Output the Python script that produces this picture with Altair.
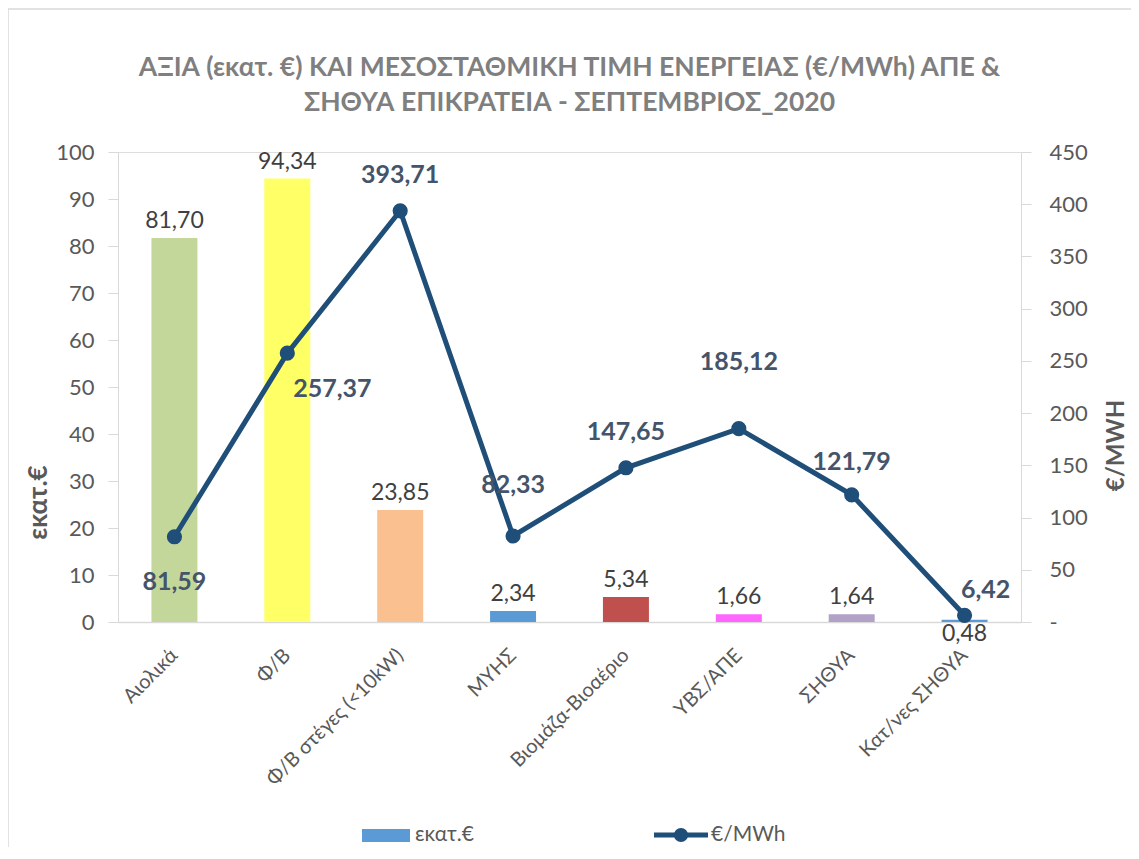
import altair as alt
import pandas as pd

categories = ["Αιολικά", "Φ/Β", "Φ/Β στέγες (<10kW)", "ΜΥΗΣ", "Βιομάζα-Βιοαέριο",
              "ΥΒΣ/ΑΠΕ", "ΣΗΘΥΑ", "Κατ/νες ΣΗΘΥΑ"]
value_meur = [81.70, 94.34, 23.85, 2.34, 5.34, 1.66, 1.64, 0.48]
price_mwh = [81.59, 257.37, 393.71, 82.33, 147.65, 185.12, 121.79, 6.42]
bar_colors = ["#C4D79B", "#FFFF66", "#FAC090", "#5B9BD5", "#C0504D",
              "#FF66FF", "#B3A2C7", "#5B9BD5"]
left_ticks = [0, 10, 20, 30, 40, 50, 60, 70, 80, 90, 100]
right_ticks = [0, 50, 100, 150, 200, 250, 300, 350, 400, 450]
title_lines = ["ΑΞΙΑ (εκατ. €) ΚΑΙ ΜΕΣΟΣΤΑΘΜΙΚΗ ΤΙΜΗ ΕΝΕΡΓΕΙΑΣ (€/MWh) ΑΠΕ &",
               "ΣΗΘΥΑ ΕΠΙΚΡΑΤΕΙΑ - ΣΕΠΤΕΜΒΡΙΟΣ_2020"]

df = pd.DataFrame({
    "cat": categories,
    "val": value_meur,
    "price": price_mwh,
    "col": bar_colors,
})
df["val_lbl"] = [f"{v:.2f}".replace(".", ",") for v in value_meur]
df["price_lbl"] = [f"{v:.2f}".replace(".", ",") for v in price_mwh]

FONT = "Lato"
GRAY = "#595959"
AXC = "#D9D9D9"
LINEC = "#1F4E79"
W, H = 903, 470

xenc = alt.X("cat:N", sort=categories, title=None,
             scale=alt.Scale(paddingInner=0.0, paddingOuter=0.0),
             axis=alt.Axis(labelAngle=-45, labelAlign="right", labelBaseline="middle",
                           labelFontSize=20, labelColor=GRAY, labelFont=FONT,
                           domainColor=AXC, domainWidth=1.5, ticks=False,
                           labelPadding=30, labelLimit=300))

yleft_scale = alt.Scale(domain=[0, 100], nice=False)
yright_scale = alt.Scale(domain=[0, 450], nice=False)

yleft = alt.Y("val:Q", title="εκατ.€", scale=yleft_scale,
              axis=alt.Axis(values=left_ticks, grid=False, labelFontSize=22,
                            labelColor=GRAY, labelFont=FONT, labelPadding=14,
                            domainColor=AXC, tickColor=AXC, tickSize=10,
                            titleFontSize=26, titleFont=FONT, titleColor=GRAY,
                            titleFontWeight="bold", titleAngle=270,
                            titleX=-80, titleY=350, titleAlign="center",
                            titleBaseline="middle"))

bars = alt.Chart(df).mark_bar(size=46).encode(
    x=xenc, y=yleft,
    color=alt.Color("col:N", scale=None),
)

def bar_text(cats, dy, baseline="bottom"):
    return alt.Chart(df).transform_filter(
        alt.FieldOneOfPredicate(field="cat", oneOf=cats)
    ).mark_text(font=FONT, fontSize=23, color="#404040", dy=dy, baseline=baseline).encode(
        x=alt.X("cat:N", sort=categories),
        y=alt.Y("val:Q", scale=yleft_scale),
        text="val_lbl:N",
    )

bar_labels = [bar_text(categories[:7], -5), bar_text(["Κατ/νες ΣΗΘΥΑ"], 14, "middle")]

yright = alt.Y("price:Q", title="€/MWH", scale=yright_scale,
               axis=alt.Axis(orient="right", values=right_ticks, grid=False,
                             labelFontSize=22, labelColor=GRAY, labelFont=FONT,
                             labelPadding=18,
                             labelExpr="datum.value == 0 ? '-' : datum.label",
                             domainColor=AXC, tickColor=AXC, tickSize=10,
                             titleFontSize=24, titleFont=FONT, titleColor=GRAY,
                             titleFontWeight="bold", titleAngle=270,
                             titleX=95, titleY=293, titleAlign="center",
                             titleBaseline="middle"))

line = alt.Chart(df).mark_line(color=LINEC, strokeWidth=5,
                               point=alt.OverlayMarkDef(color=LINEC, size=230, filled=True, opacity=1)).encode(
    x=alt.X("cat:N", sort=categories), y=yright,
)

def line_text(cats, dx, dy):
    return alt.Chart(df).transform_filter(
        alt.FieldOneOfPredicate(field="cat", oneOf=cats)
    ).mark_text(font=FONT, fontSize=25, fontWeight="bold", color="#44546A",
                dx=dx, dy=dy, baseline="middle").encode(
        x=alt.X("cat:N", sort=categories),
        y=yright,
        text="price_lbl:N",
    )

line_labels = [
    line_text(["Αιολικά"], 0, 45),
    line_text(["Φ/Β"], 45, 36),
    line_text(["Φ/Β στέγες (<10kW)", "Βιομάζα-Βιοαέριο"], 0, -36),
    line_text(["ΜΥΗΣ"], 0, -51),
    line_text(["ΥΒΣ/ΑΠΕ"], 0, -67),
    line_text(["ΣΗΘΥΑ"], 0, -33),
    line_text(["Κατ/νες ΣΗΘΥΑ"], 21, -25),
]

# title, custom legend and outer frame (decorations)
one = alt.Chart(df).transform_filter(alt.datum.cat == categories[0])
title1 = one.mark_text(text=title_lines[0], font=FONT, fontSize=26.5, fontWeight="bold",
                       color="#7F7F7F", align="center", baseline="middle").encode(
    x=alt.value(W / 2), y=alt.value(-84))
title2 = one.mark_text(text=title_lines[1], font=FONT, fontSize=26.5, fontWeight="bold",
                       color="#7F7F7F", align="center", baseline="middle").encode(
    x=alt.value(W / 2), y=alt.value(-49))
legend_rect = one.mark_rect(color="#5B9BD5").encode(
    x=alt.value(244), x2=alt.value(292), y=alt.value(677), y2=alt.value(690))
legend_rect_t = one.mark_text(
    text="εκατ.€", font=FONT, fontSize=21, color=GRAY, align="left", baseline="middle").encode(
    x=alt.value(297), y=alt.value(683))
legend_line = one.mark_rule(color=LINEC, strokeWidth=5).encode(
    x=alt.value(536), x2=alt.value(590), y=alt.value(683))
legend_pt = one.mark_point(color=LINEC, filled=True, size=200, opacity=1).encode(
    x=alt.value(563), y=alt.value(683))
legend_line_t = one.mark_text(
    text="€/MWh", font=FONT, fontSize=21, color=GRAY, align="left", baseline="middle").encode(
    x=alt.value(593), y=alt.value(683))
frame = one.mark_rect(fill=None, stroke="#D9D9D9", strokeWidth=1.5).encode(
    x=alt.value(-110), x2=alt.value(1040), y=alt.value(-143), y2=alt.value(720))

left = alt.layer(bars, *bar_labels)
right = alt.layer(line, *line_labels)

chart = alt.layer(frame, title1, title2, left, right, legend_rect, legend_rect_t,
                  legend_line, legend_pt, legend_line_t).resolve_scale(
    y="independent"
).properties(
    width=W, height=H,
    padding={"left": 110, "top": 144, "right": 110, "bottom": 225},
    autosize=alt.AutoSizeParams(type="none"),
).configure_view(stroke=None).configure(background="white")

chart.save("out.html", embed_options={"renderer": "svg", "actions": False})
